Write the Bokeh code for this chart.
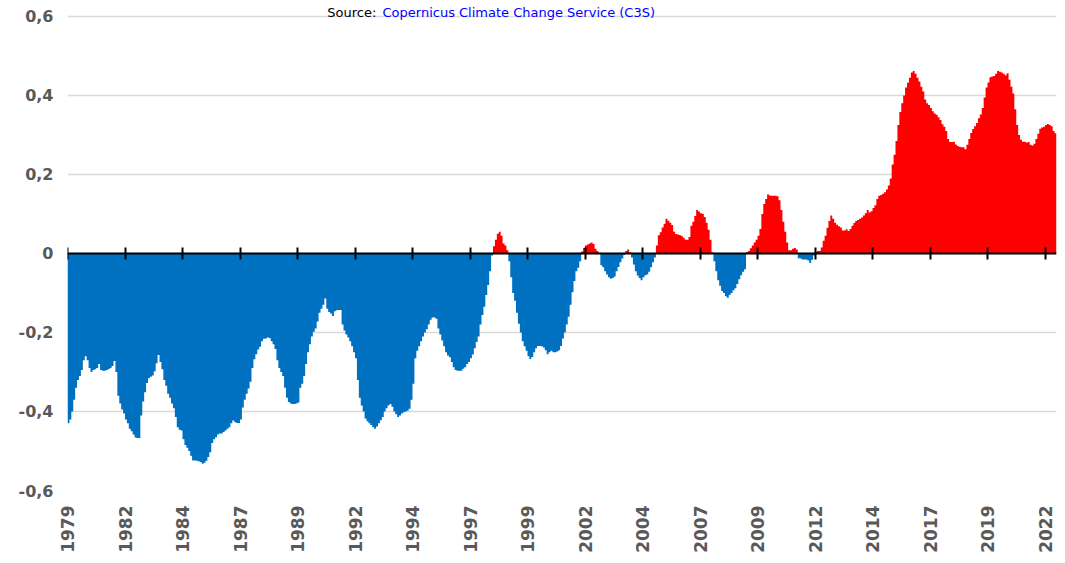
import math
from bokeh.plotting import figure
from bokeh.models import Range1d, FixedTicker, LinearAxis, ColumnDataSource, Label
from bokeh.embed import file_html
from bokeh.resources import INLINE

# Monthly anomaly values (12-month smoothed)
anomaly = [
    -0.43, -0.42, -0.40, -0.37, -0.34, -0.32, -0.31, -0.295, -0.27, -0.26,
    -0.27, -0.29, -0.30, -0.295, -0.293, -0.29, -0.28, -0.295, -0.297, -0.297,
    -0.295, -0.293, -0.29, -0.285, -0.272, -0.30, -0.36, -0.38, -0.395, -0.405,
    -0.42, -0.43, -0.444, -0.45, -0.458, -0.466, -0.467, -0.467, -0.41, -0.375,
    -0.351, -0.328, -0.316, -0.312, -0.309, -0.298, -0.278, -0.257, -0.275, -0.293,
    -0.32, -0.335, -0.355, -0.365, -0.38, -0.392, -0.414, -0.44, -0.446, -0.448,
    -0.47, -0.485, -0.492, -0.50, -0.512, -0.524, -0.524, -0.525, -0.526, -0.528,
    -0.532, -0.53, -0.525, -0.515, -0.503, -0.48, -0.47, -0.465, -0.458, -0.456,
    -0.456, -0.452, -0.448, -0.444, -0.44, -0.43, -0.423, -0.427, -0.429, -0.429,
    -0.42, -0.39, -0.37, -0.355, -0.342, -0.325, -0.29, -0.268, -0.255, -0.243,
    -0.236, -0.222, -0.216, -0.215, -0.213, -0.214, -0.222, -0.23, -0.242, -0.27,
    -0.29, -0.30, -0.31, -0.34, -0.365, -0.376, -0.38, -0.381, -0.381, -0.38,
    -0.377, -0.34, -0.33, -0.31, -0.28, -0.25, -0.23, -0.21, -0.198, -0.19,
    -0.172, -0.15, -0.14, -0.13, -0.114, -0.14, -0.148, -0.152, -0.158, -0.146,
    -0.144, -0.143, -0.143, -0.18, -0.195, -0.205, -0.213, -0.222, -0.235, -0.25,
    -0.265, -0.32, -0.365, -0.385, -0.40, -0.418, -0.425, -0.43, -0.434, -0.44,
    -0.444, -0.438, -0.43, -0.422, -0.414, -0.40, -0.392, -0.385, -0.381, -0.388,
    -0.40, -0.407, -0.414, -0.41, -0.405, -0.402, -0.40, -0.398, -0.393, -0.37,
    -0.33, -0.265, -0.246, -0.235, -0.222, -0.21, -0.20, -0.192, -0.18, -0.168,
    -0.162, -0.162, -0.165, -0.19, -0.205, -0.22, -0.235, -0.25, -0.258, -0.263,
    -0.275, -0.288, -0.295, -0.297, -0.297, -0.297, -0.292, -0.288, -0.28, -0.275,
    -0.265, -0.256, -0.24, -0.224, -0.21, -0.18, -0.156, -0.135, -0.105, -0.08,
    -0.045, -0.005, 0.018, 0.035, 0.05, 0.055, 0.045, 0.025, 0.02, 0.008,
    -0.02, -0.06, -0.10, -0.12, -0.15, -0.178, -0.20, -0.222, -0.235, -0.246,
    -0.26, -0.267, -0.262, -0.25, -0.24, -0.234, -0.234, -0.235, -0.238, -0.245,
    -0.255, -0.25, -0.246, -0.25, -0.25, -0.248, -0.245, -0.234, -0.215, -0.20,
    -0.18, -0.16, -0.13, -0.098, -0.07, -0.045, -0.036, -0.02, 0.005, 0.014,
    0.02, 0.023, 0.025, 0.028, 0.024, 0.012, 0.006, 0.002, -0.03, -0.035,
    -0.045, -0.053, -0.06, -0.064, -0.062, -0.058, -0.045, -0.034, -0.022, -0.013,
    -0.004, 0.006, 0.01, 0.003, -0.01, -0.028, -0.045, -0.056, -0.062, -0.068,
    -0.06, -0.055, -0.053, -0.046, -0.035, -0.022, -0.01, 0.02, 0.046, 0.054,
    0.066, 0.075, 0.088, 0.083, 0.078, 0.072, 0.055, 0.049, 0.048, 0.047,
    0.044, 0.04, 0.035, 0.035, 0.042, 0.07, 0.08, 0.095, 0.11, 0.106,
    0.102, 0.10, 0.092, 0.078, 0.06, 0.035, 0.003, -0.02, -0.045, -0.068,
    -0.082, -0.095, -0.10, -0.108, -0.112, -0.105, -0.10, -0.093, -0.088, -0.077,
    -0.065, -0.055, -0.046, -0.04, 0.003, 0.006, 0.013, 0.02, 0.028, 0.035,
    0.045, 0.062, 0.10, 0.125, 0.138, 0.149, 0.147, 0.146, 0.146, 0.146,
    0.145, 0.135, 0.11, 0.08, 0.055, 0.028, 0.008, 0.008, 0.012, 0.014,
    0.01, -0.012, -0.013, -0.015, -0.015, -0.015, -0.018, -0.024, -0.016, -0.005,
    0.003, 0.006, 0.006, 0.015, 0.032, 0.045, 0.065, 0.082, 0.096, 0.088,
    0.078, 0.073, 0.069, 0.066, 0.058, 0.058, 0.061, 0.057, 0.062, 0.07,
    0.077, 0.082, 0.085, 0.088, 0.091, 0.096, 0.102, 0.11, 0.104, 0.107,
    0.115, 0.122, 0.138, 0.146, 0.148, 0.151, 0.155, 0.162, 0.172, 0.19,
    0.225, 0.25, 0.285, 0.325, 0.358, 0.38, 0.40, 0.42, 0.432, 0.445,
    0.458, 0.462, 0.455, 0.445, 0.435, 0.422, 0.41, 0.39, 0.38, 0.376,
    0.368, 0.36, 0.354, 0.351, 0.345, 0.338, 0.327, 0.321, 0.31, 0.29,
    0.282, 0.282, 0.283, 0.276, 0.272, 0.27, 0.269, 0.269, 0.264, 0.275,
    0.29, 0.305, 0.315, 0.322, 0.33, 0.342, 0.352, 0.368, 0.395, 0.42,
    0.433, 0.446, 0.448, 0.449, 0.455, 0.462, 0.46, 0.458, 0.455, 0.451,
    0.456, 0.44, 0.422, 0.405, 0.365, 0.325, 0.30, 0.288, 0.283, 0.283,
    0.281, 0.282, 0.275, 0.273, 0.278, 0.29, 0.303, 0.316, 0.319, 0.321,
    0.325, 0.328, 0.325, 0.322, 0.31, 0.304,
]

# One category label every 30 months
tick_labels = ["1979", "1982", "1984", "1987", "1989", "1992", "1994", "1997", "1999",
               "2002", "2004", "2007", "2009", "2012", "2014", "2017", "2019", "2022"]
label_step = 30

y_ticks = [-0.6, -0.4, -0.2, 0.0, 0.2, 0.4, 0.6]
y_tick_labels = ["-0,6", "-0,4", "-0,2", "0", "0,2", "0,4", "0,6"]

source_prefix = "Source: "
source_link = "Copernicus Climate Change Service (C3S)"

POS_COLOR = "#FF0000"
NEG_COLOR = "#0070C0"
TEXT_COLOR = "#595959"
FONT = "DejaVu Sans"

# layout (pixels): value axis from 0,6 at y=16 down to -0,6 at y=492
FRAME_LEFT, GRID_TOP, FRAME_BOTTOM = 67, 16, 492
W, H = 1057, 555
Y_MIN, Y_MAX = y_ticks[0], y_ticks[-1]
px_per_unit = (FRAME_BOTTOM - GRID_TOP) / (Y_MAX - Y_MIN)
y_top = Y_MAX + GRID_TOP / px_per_unit   # frame reaches the top of the canvas

n = len(anomaly)
# each monthly bar spans [i, i+1); the step area needs the closing edge at n
edges = list(range(n + 1))
vals = anomaly + [anomaly[-1]]
src = ColumnDataSource(dict(
    x=edges,
    zero=[0.0] * (n + 1),
    pos=[max(v, 0.0) for v in vals],
    neg=[min(v, 0.0) for v in vals],
))

tick_pos = [k * label_step for k in range(len(tick_labels))]

p = figure(width=W, height=H, output_backend="svg", toolbar_location=None,
           x_range=Range1d(0, n), y_range=Range1d(Y_MIN, y_top),
           min_border_left=FRAME_LEFT, min_border_right=1,
           min_border_top=0, min_border_bottom=H - FRAME_BOTTOM)
p.outline_line_color = None
p.background_fill_color = "white"
p.border_fill_color = "white"

# contiguous monthly bars, drawn as step areas (one per sign) so no seams show
p.varea_step(x="x", y1="zero", y2="neg", step_mode="after", source=src,
             fill_color=NEG_COLOR)
p.varea_step(x="x", y1="zero", y2="pos", step_mode="after", source=src,
             fill_color=POS_COLOR)

# bottom category labels
xa = p.xaxis[0]
xa.ticker = FixedTicker(ticks=tick_pos)
xa.major_label_overrides = {t: lab for t, lab in zip(tick_pos, tick_labels)}
xa.axis_line_color = None
xa.major_tick_line_color = None
xa.minor_tick_line_color = None
xa.major_tick_out = 0
xa.major_tick_in = 0
xa.major_label_orientation = math.pi / 2
xa.major_label_standoff = 15
xa.major_label_text_font = FONT
xa.major_label_text_font_style = "bold"
xa.major_label_text_font_size = "17px"
xa.major_label_text_color = TEXT_COLOR

# zero line with crossing tick marks
zero_axis = LinearAxis(fixed_location=0, ticker=FixedTicker(ticks=tick_pos),
                       axis_line_color="black", axis_line_width=2,
                       major_tick_line_color="black", major_tick_line_width=2,
                       major_tick_in=6, major_tick_out=6,
                       minor_tick_line_color=None,
                       major_label_overrides={t: "" for t in tick_pos},
                       major_label_text_font_size="0px",
                       major_label_standoff=0)
p.add_layout(zero_axis, "below")

ya = p.yaxis[0]
ya.ticker = FixedTicker(ticks=y_ticks)
ya.major_label_overrides = {t: lab for t, lab in zip(y_ticks, y_tick_labels)}
ya.axis_line_color = None
ya.major_tick_line_color = None
ya.minor_tick_line_color = None
ya.major_tick_out = 0
ya.major_tick_in = 0
ya.major_label_standoff = 14
ya.major_label_text_font = FONT
ya.major_label_text_font_style = "bold"
ya.major_label_text_font_size = "16px"
ya.major_label_text_color = TEXT_COLOR

p.xgrid.visible = False
p.ygrid.ticker = FixedTicker(ticks=y_ticks)
p.ygrid.grid_line_color = "#D9D9D9"
p.ygrid.grid_line_width = 1.5

# source line at the very top, just above the 0,6 gridline
title_y = Y_MAX + 4 / px_per_unit
link_left = 382 - FRAME_LEFT
p.add_layout(Label(x=link_left - 2, x_units="screen", y=title_y,
                   text=source_prefix, text_align="right", text_baseline="alphabetic",
                   text_font=FONT, text_font_size="13px", text_color="black"))
p.add_layout(Label(x=link_left, x_units="screen", y=title_y,
                   text=source_link, text_align="left", text_baseline="alphabetic",
                   text_font=FONT, text_font_size="13px", text_color="#0000FF"))

open("out.html", "w").write(file_html(p, INLINE))
